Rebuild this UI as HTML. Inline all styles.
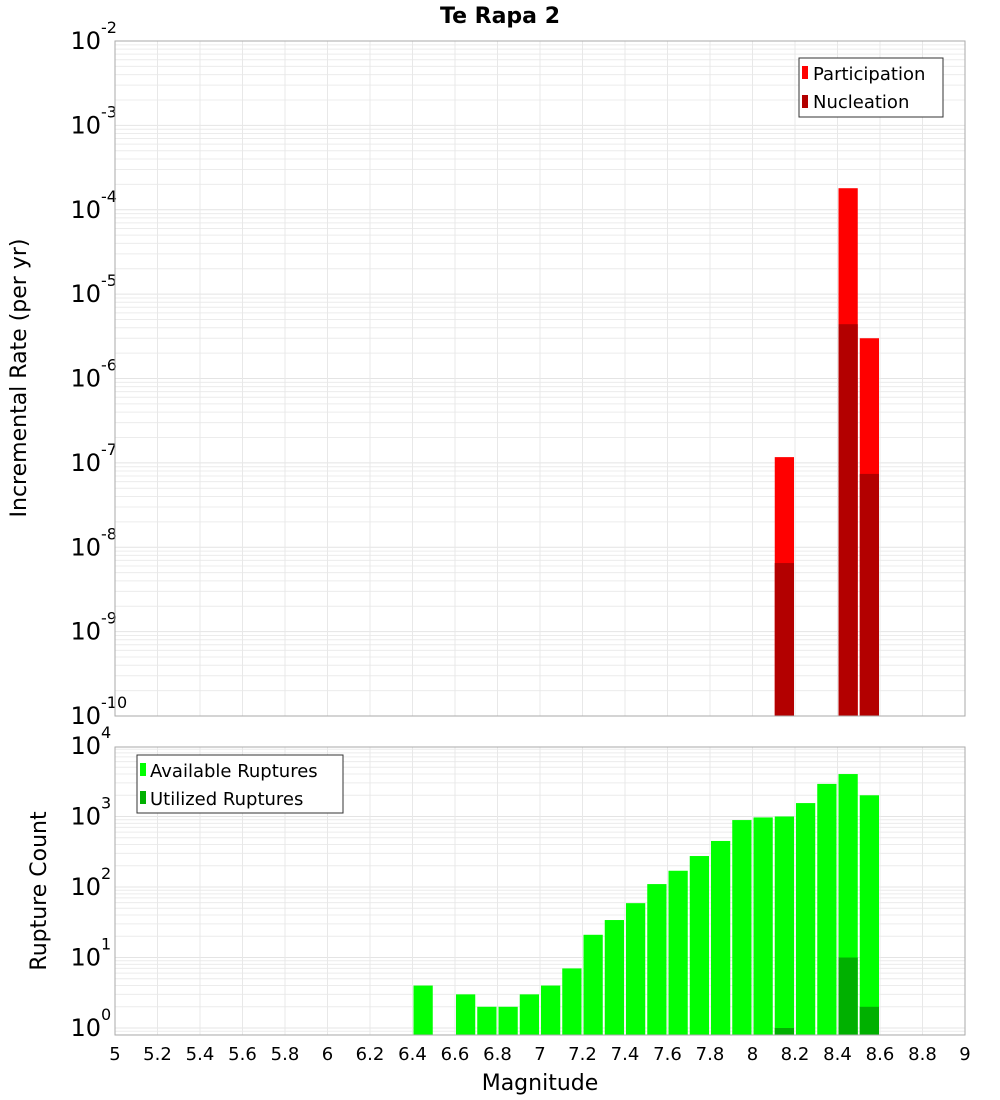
<!DOCTYPE html>
<html><head><meta charset="utf-8"><style>
body{margin:0;background:#fff}
svg{display:block;font-family:"DejaVu Sans","Liberation Sans",sans-serif}
</style></head><body>
<svg id="c" width="1000" height="1100" viewBox="0 0 1000 1100">
<text x="500" y="23" text-anchor="middle" font-size="22" font-weight="bold">Te Rapa 2</text>
<g id="top"></g>
<g id="bot"></g>
<text transform="translate(26,378) rotate(-90)" text-anchor="middle" font-size="22">Incremental Rate (per yr)</text>
<text transform="translate(46,891) rotate(-90)" text-anchor="middle" font-size="22">Rupture Count</text>
<text x="540" y="1090" text-anchor="middle" font-size="22">Magnitude</text>
<g id="leg1">
<rect x="799" y="58" width="144" height="59" fill="#fff" stroke="#333"/>
<rect x="802" y="66" width="6" height="13" fill="#ff0000"/>
<text x="813" y="80" font-size="18">Participation</text>
<rect x="802" y="95" width="6" height="13" fill="#b30000"/>
<text x="813" y="108" font-size="18">Nucleation</text>
</g>
<g id="leg2">
<rect x="137" y="755" width="206" height="58" fill="#fff" stroke="#333"/>
<rect x="140" y="763" width="6" height="13" fill="#00ff00"/>
<text x="150" y="777" font-size="18">Available Ruptures</text>
<rect x="140" y="791" width="6" height="13" fill="#00b000"/>
<text x="150" y="805" font-size="18">Utilized Ruptures</text>
</g>
</svg>
<script>
const xTicks=["5","5.2","5.4","5.6","5.8","6","6.2","6.4","6.6","6.8","7","7.2","7.4","7.6","7.8","8","8.2","8.4","8.6","8.8","9"];
const rateMags=[8.1,8.4,8.5];
const participation=[1.17e-7,1.8e-4,3.0e-6];
const nucleation=[6.5e-9,4.4e-6,7.4e-8];
const countMags=[6.4,6.6,6.7,6.8,6.9,7.0,7.1,7.2,7.3,7.4,7.5,7.6,7.7,7.8,7.9,8.0,8.1,8.2,8.3,8.4,8.5];
const available=[4,3,2,2,3,4,7,21,34,59,110,170,275,450,890,970,1000,1550,2900,4000,2000];
const utilizedMags=[8.1,8.4,8.5];
const utilized=[1,10,2];
const NS="http://www.w3.org/2000/svg";
const L=115,R=965;
const xs=m=>L+(m-5)*(R-L)/4;
function el(p,t,a){const e=document.createElementNS(NS,t);for(const k in a)e.setAttribute(k,a[k]);p.appendChild(e);return e;}
function panel(g,pt,pb,dMax,dMin,yf){
  for(let d=dMin;d<dMax;d++)for(let k=2;k<10;k++){const y=yf(k*Math.pow(10,d));
    if(y<pt||y>pb)continue;
    const l=el(g,'line',{x1:L,x2:R,y1:y,y2:y,stroke:'#ececec','stroke-width':1});
    
    }
  for(let d=dMin;d<=dMax;d++){const y=yf(Math.pow(10,d));
    if(y>pb+10)continue;
    if(y>pt&&y<pb){const l=el(g,'line',{x1:L,x2:R,y1:y,y2:y,stroke:'#e4e4e4','stroke-width':1});
    
    }
    const t=el(g,'text',{x:101,y:y+8,'text-anchor':'end','font-size':24});t.textContent='10';
    
    
    const s=el(g,'text',{x:101,y:y-8,'font-size':16});s.textContent=String(d);
    
    }
  xTicks.forEach(t=>{const x=xs(+t);const l=el(g,'line',{x1:x,x2:x,y1:pt,y2:pb,stroke:'#e8e8e8'});
    
    });
}
const gTop=document.getElementById('top'),gBot=document.getElementById('bot');
const yT=v=>41+(-2-Math.log10(v))*84.375;
panel(gTop,41,716,-2,-10,yT);
function bar(g,m,v,yf,base,fill,name){const x=xs(m)+1,w=xs(m+0.1)-xs(m)-2,y=yf(v);
  const r=el(g,'rect',{x:x,y:y,width:w,height:Math.max(base-y,0),fill:fill});
  
  }
rateMags.forEach((m,i)=>bar(gTop,m,participation[i],yT,716,'#ff0000','participation-bar'));
rateMags.forEach((m,i)=>bar(gTop,m,nucleation[i],yT,716,'#b30000','nucleation-bar'));
el(gTop,'rect',{x:L,y:41,width:R-L,height:675,fill:'none',stroke:'#aaa'});
const yB=v=>1028-70.5*Math.log10(v);
panel(gBot,747,1035,4,-1,yB);
countMags.forEach((m,i)=>bar(gBot,m,available[i],yB,1035,'#00ff00','available-bar'));
utilizedMags.forEach((m,i)=>bar(gBot,m,utilized[i],yB,1035,'#00b000','utilized-bar'));
el(gBot,'rect',{x:L,y:747,width:R-L,height:288,fill:'none',stroke:'#aaa'});
xTicks.forEach(t=>{const e=el(gBot,'text',{x:xs(+t),y:1060,'text-anchor':'middle','font-size':18});e.textContent=t;
  
  });
const svg=document.getElementById('c');
svg.appendChild(document.getElementById('leg1'));
svg.appendChild(document.getElementById('leg2'));
</script>
</body></html>
